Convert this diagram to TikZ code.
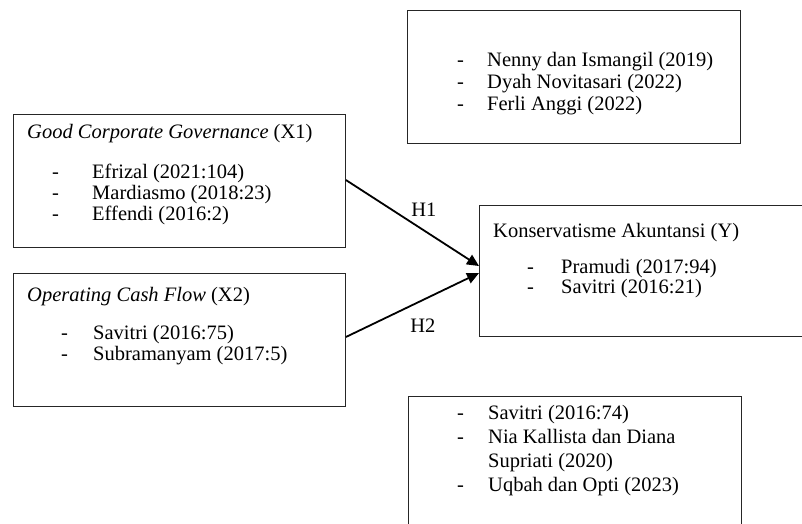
\documentclass[tikz,border=0pt]{standalone}
\usepackage{fontspec}
\setmainfont{Liberation Serif}
\usetikzlibrary{arrows.meta,calc}
\newcommand\dashline[2]{\makebox[#1][l]{-}#2}
\begin{document}
\begin{tikzpicture}[x=1pt,y=-1pt,
  box/.style={draw=black!85,line width=0.9pt,inner sep=0,anchor=north west},
  txt/.style={inner sep=0,anchor=base west,font=\fontsize{20.5}{#1}\selectfont},
  txt/.default=22,
  arr/.style={line width=1.8pt,-{Triangle[length=12pt,width=11pt]}},
  lbl/.style={inner sep=0,font=\fontsize{20.5}{22}\selectfont}]
\useasboundingbox (0,0) rectangle (802,523);
\fill[white] (0,0) rectangle (802,523);
\clip (0,0) rectangle (802,523);
% boxes
\node[box,minimum width=333pt,minimum height=133pt] (topbox) at (407,10) {};
\node[box,minimum width=332pt,minimum height=133pt] (x1) at (13,114) {};
\node[box,minimum width=332pt,minimum height=133pt] (x2) at (13,273) {};
\node[box,minimum width=360pt,minimum height=131pt] (y) at (479,205) {};
\node[box,minimum width=333pt,minimum height=200pt] (botbox) at (408,396) {};
% top box
\node[txt=22] (toplist) at (457,66) {\begin{tabular}[t]{@{}l@{}}
\dashline{30pt}{Nenny dan Ismangil (2019)}\\
\dashline{30pt}{Dyah Novitasari (2022)}\\
\dashline{30pt}{Ferli Anggi (2022)}\end{tabular}};
% X1
\node[txt] (x1title) at (27,138) {\textit{Good Corporate Governance} (X1)};
\node[txt=21] (x1list) at (52,178) {\begin{tabular}[t]{@{}l@{}}
\dashline{40pt}{Efrizal (2021:104)}\\
\dashline{40pt}{Mardiasmo (2018:23)}\\
\dashline{40pt}{Effendi (2016:2)}\end{tabular}};
% X2
\node[txt] (x2title) at (27,301) {\textit{Operating Cash Flow} (X2)};
\node[txt=21] (x2list) at (61,339) {\begin{tabular}[t]{@{}l@{}}
\dashline{32pt}{Savitri (2016:75)}\\
\dashline{32pt}{Subramanyam (2017:5)}\end{tabular}};
% Y
\node[txt] (ytitle) at (493,237) {Konservatisme Akuntansi (Y)};
\node[txt=20] (ylist) at (527,273) {\begin{tabular}[t]{@{}l@{}}
\dashline{34pt}{Pramudi (2017:94)}\\
\dashline{34pt}{Savitri (2016:21)}\end{tabular}};
% bottom box
\node[txt=24] (botlist) at (457,419) {\begin{tabular}[t]{@{}l@{}}
\dashline{31pt}{Savitri (2016:74)}\\
\dashline{31pt}{Nia Kallista dan Diana}\\
\hspace*{31pt}Supriati (2020)\\
\dashline{31pt}{Uqbah dan Opti (2023)}\end{tabular}};
% arrows
\coordinate (h1s) at ($(x1.north east)+(0,66)$);
\coordinate (h1e) at ($(y.north west)+(0,61)$);
\coordinate (h2s) at ($(x2.north east)+(0,64)$);
\coordinate (h2e) at ($(y.north west)+(0,68)$);
\draw[arr] (h1s) -- node[lbl,pos=0.586,above=13pt] (h1) {H1} (h1e);
\draw[arr] (h2s) -- node[lbl,pos=0.579,below=18pt] (h2) {H2} (h2e);
\end{tikzpicture}
\end{document}
